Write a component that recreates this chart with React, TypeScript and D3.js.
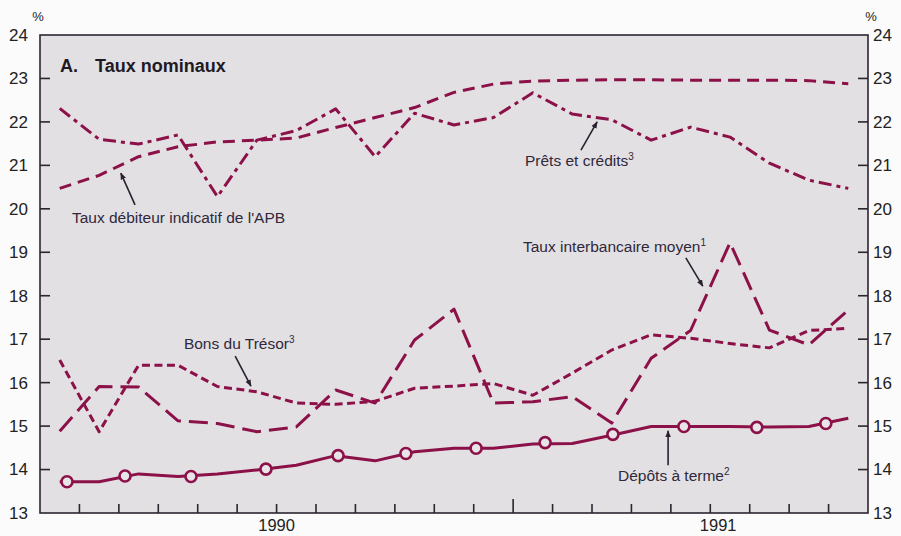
import React from 'react';
import * as d3 from 'd3';

// Monthly observations (21 months), plotted at mid-month
const monthIndex = d3.range(21);
const apb = [20.47, 20.77, 21.2, 21.43, 21.54, 21.58, 21.63, 21.87, 22.1, 22.33, 22.68, 22.87, 22.94, 22.96, 22.97, 22.97, 22.96, 22.96, 22.96, 22.95, 22.88];
const prets = [22.31, 21.6, 21.49, 21.7, 20.28, 21.58, 21.8, 22.3, 21.2, 22.2, 21.93, 22.1, 22.67, 22.18, 22.05, 21.58, 21.88, 21.65, 21.05, 20.66, 20.47];
const interbancaire = [14.88, 15.91, 15.9, 15.12, 15.06, 14.87, 14.98, 15.83, 15.53, 16.98, 17.69, 15.53, 15.56, 15.68, 15.07, 16.56, 17.2, 19.22, 17.21, 16.87, 17.67];
const bons = [16.52, 14.87, 16.4, 16.4, 15.91, 15.79, 15.53, 15.5, 15.57, 15.87, 15.92, 15.98, 15.71, 16.22, 16.75, 17.1, 17.02, 16.9, 16.8, 17.2, 17.25];
const depots = [13.72, 13.72, 13.9, 13.84, 13.9, 13.99, 14.1, 14.32, 14.2, 14.41, 14.49, 14.49, 14.59, 14.6, 14.79, 14.99, 14.99, 14.99, 14.98, 14.99, 15.18];
// Circle markers on the "Dépôts à terme" line (month position, value)
const depotMarkerMonths = [0.685, 2.156, 3.83, 5.73, 7.56, 9.28, 11.06, 12.81, 14.53, 16.33, 18.18, 19.93];
const depotMarkerValues = [13.72, 13.85, 13.84, 14.01, 14.32, 14.37, 14.49, 14.62, 14.81, 14.99, 14.97, 15.06];

const yTicks = d3.range(13, 25);
const xMinorTicks = d3.range(1, 21);
const yearBoundary = 12;
const yearLabels = ['1990', '1991'];
const yearLabelPos = [6, 17.2];

const LINE = '#8b1148';
const TEXT = '#30283b';
const FRAME = '#2b2530';
const FONT = '"Liberation Sans", Arial, Helvetica, sans-serif';

export default function App() {
  const x = d3.scaleLinear().domain([0, 21]).range([40, 868]);
  const y = d3.scaleLinear().domain([13, 24]).range([513, 35]);
  const mk = (vals: number[]) =>
    d3.line<number>().x((_, i) => x(monthIndex[i] + 0.5)).y(d => y(d))(vals) || '';

  const series = [
    { vals: apb, dash: '12,7' },
    { vals: prets, dash: '13,5,4,5' },
    { vals: interbancaire, dash: '19,8' },
    { vals: bons, dash: '8,4.5' },
    { vals: depots, dash: '' },
  ];

  const annotations = [
    { text: 'Taux débiteur indicatif de l\'APB', sup: '', tx: 0.81, ty: 19.67, a: [2.41, 20.09, 2.05, 20.82] },
    { text: 'Prêts et crédits', sup: '3', tx: 12.3, ty: 20.99, a: [13.72, 21.35, 14.13, 22.0] },
    { text: 'Taux interbancaire moyen', sup: '1', tx: 12.25, ty: 19.01, a: [16.38, 18.87, 16.81, 18.22] },
    { text: 'Bons du Trésor', sup: '3', tx: 3.65, ty: 16.77, a: [4.95, 16.61, 5.35, 15.92] },
    { text: 'Dépôts à terme', sup: '2', tx: 14.66, ty: 13.74, a: [15.93, 14.1, 15.93, 14.89] },
  ];

  return (
    <svg width={901} height={536} style={{ position: 'absolute', left: 0, top: 0, background: '#fbfbfb' }} fontFamily={FONT}>
      <defs>
        <marker id="arr" viewBox="0 0 10 10" refX="9" refY="5" markerWidth="7" markerHeight="7" orient="auto" markerUnits="userSpaceOnUse">
          <path d="M0,1 L10,5 L0,9 Z" fill="#2a2030" />
        </marker>
      </defs>
      <rect x={x(0)} y={y(24)} width={x(21) - x(0)} height={y(13) - y(24)} fill="#e3e0e3" />

      {/* series */}
      {series.map((s, i) => (
        <path key={i} d={mk(s.vals)} fill="none" stroke={LINE} strokeWidth={3} strokeDasharray={s.dash || undefined} strokeLinejoin="round" />
      ))}
      {depotMarkerMonths.map((m, i) => (
        <circle key={i} cx={x(m)} cy={y(depotMarkerValues[i])} r={5.5} fill="#e8e5e8" stroke={LINE} strokeWidth={2.6} />
      ))}

      {/* frame */}
      <rect x={x(0)} y={y(24)} width={x(21) - x(0)} height={y(13) - y(24)} fill="none" stroke={FRAME} strokeWidth={1.6} />

      {/* y ticks */}
      {yTicks.map(t => (
        <g key={t}>
          {t > 13 && t < 24 && <line x1={x(0)} x2={x(0) + 10} y1={y(t)} y2={y(t)} stroke={FRAME} strokeWidth={1.6} />}
          {t > 13 && t < 24 && <line x1={x(21) - 10} x2={x(21)} y1={y(t)} y2={y(t)} stroke={FRAME} strokeWidth={1.6} />}
          <text x={28} y={y(t)} dy="0.35em" textAnchor="end" fontSize={17} fill="#222">{t}</text>
          <text x={873} y={y(t)} dy="0.35em" textAnchor="start" fontSize={17} fill="#222">{t}</text>
        </g>
      ))}
      <text x={38} y={21} textAnchor="middle" fontSize={13} fill="#222">%</text>
      <text x={871} y={21} textAnchor="middle" fontSize={13} fill="#222">%</text>

      {/* x ticks */}
      {xMinorTicks.map(t => (
        <line key={t} x1={x(t)} x2={x(t)} y1={y(13)} y2={y(13) - (t === yearBoundary ? 14 : 9)} stroke={FRAME} strokeWidth={1.6} />
      ))}
      {yearLabels.map((l, i) => (
        <text key={l} x={x(yearLabelPos[i])} y={531} textAnchor="middle" fontSize={16.5} fill="#222">{l}</text>
      ))}

      {/* title */}
      <text x={60} y={72} fontSize={18} fontWeight="bold" fill="#1e1a24">A.</text>
      <text x={95} y={72} fontSize={18} fontWeight="bold" fill="#1e1a24">Taux nominaux</text>

      {/* annotations */}
      {annotations.map((a, i) => (
        <g key={i}>
          <text x={x(a.tx)} y={y(a.ty)} fontSize={15.5} fill={TEXT}>
            {a.text}
            {a.sup && <tspan fontSize={10} dy={-6}>{a.sup}</tspan>}
          </text>
          <line x1={x(a.a[0])} y1={y(a.a[1])} x2={x(a.a[2])} y2={y(a.a[3])} stroke="#2a2030" strokeWidth={1.6} markerEnd="url(#arr)" />
        </g>
      ))}
    </svg>
  );
}
